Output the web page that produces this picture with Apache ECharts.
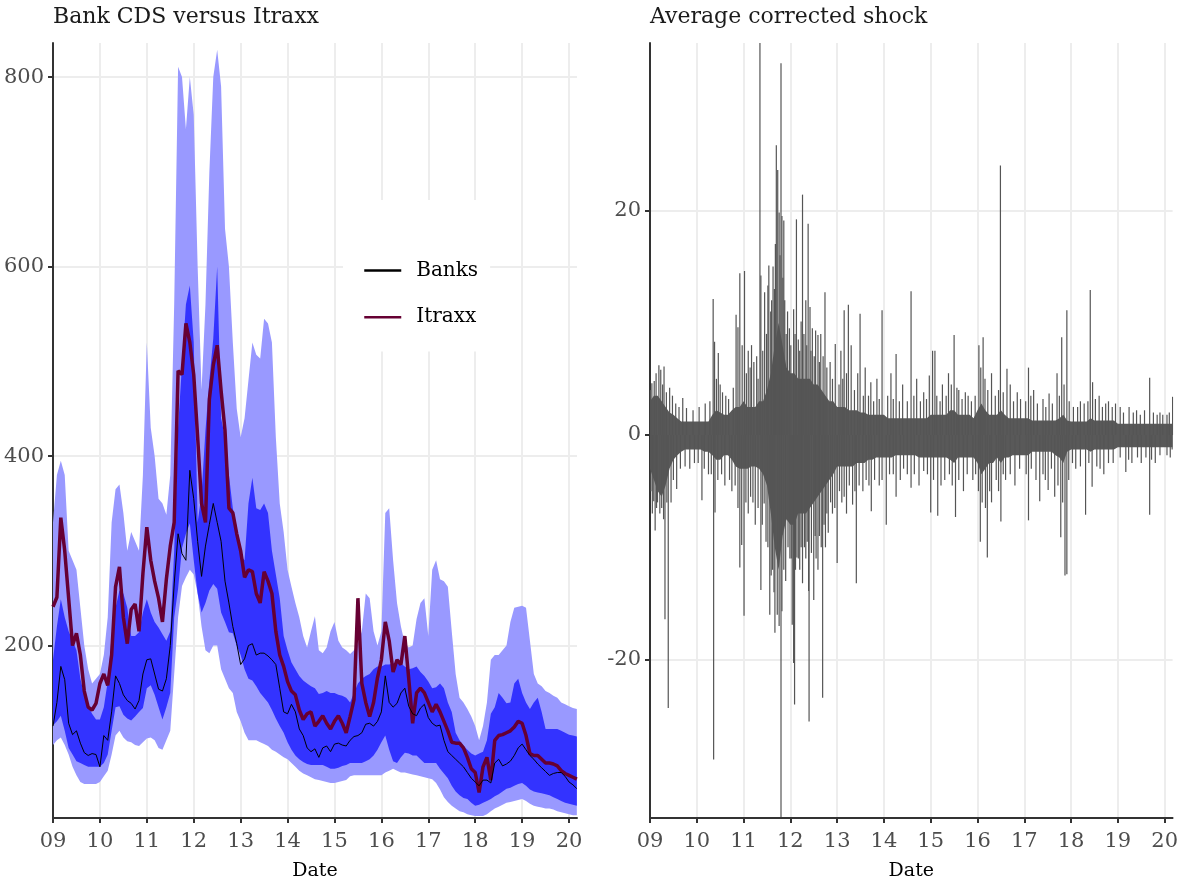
<!DOCTYPE html>
<html>
<head>
<meta charset="UTF-8">
<title>Bank CDS versus Itraxx</title>
<script src="https://cdn.jsdelivr.net/npm/echarts@6/dist/echarts.min.js"></script>
<style>
  html, body { margin: 0; padding: 0; background: #fff; }
  #chart { width: 1181px; height: 886px; }
</style>
</head>
<body>
<div id="chart"></div>
<script type="text/javascript">
var FONT = '"DejaVu Serif", "Liberation Serif", serif';

// left panel, one value per month, Jan 2009 .. Mar 2020
var itraxx = [
  241, 251, 335, 300, 250, 200, 213, 190, 152, 135, 132, 139,
  160, 170, 158, 190, 262, 283, 230, 202, 238, 244, 215, 276,
  325, 290, 268, 250, 225, 270, 305, 330, 490, 486, 540, 520,
  486, 420, 350, 330, 460, 496, 517, 469, 427, 345, 340, 318,
  300, 272, 280, 278, 255, 245, 278, 268, 255, 215, 190, 178,
  162, 152, 148, 132, 122, 128, 130, 115, 120, 126, 118, 112,
  120, 126, 118, 108, 125, 143, 250, 160, 140, 125, 140, 166,
  185, 225, 205, 172, 185, 180, 210, 165, 118, 150, 155, 150,
  140, 130, 138, 130, 120, 110, 98, 97, 97, 92, 82, 70,
  66, 45, 72, 82, 58, 100, 105, 106, 108, 110, 114, 120,
  118, 105, 86, 84, 84, 80, 76, 76, 75, 73, 68, 65,
  63, 61, 59
];
var banks = [
  115, 140, 178, 164, 118, 106, 110, 97, 87, 84, 86, 85,
  72, 105, 100, 130, 168, 160, 148, 142, 139, 133, 142, 170,
  185, 186, 170, 154, 152, 165, 200, 265, 318, 297, 290, 385,
  355, 310, 273, 305, 328, 350, 330, 310, 268, 245, 220, 202,
  180, 186, 200, 202, 190, 192, 192, 189, 185, 180, 155, 130,
  128, 138, 130, 112, 105, 92, 88, 91, 82, 92, 94, 88,
  96, 97, 95, 94, 100, 104, 105, 108, 117, 118, 115, 120,
  130, 168, 140, 135, 139, 150, 155, 136, 128, 126, 134, 138,
  124, 118, 115, 116, 100, 88, 84, 80, 76, 72, 66, 60,
  56, 52, 58, 58, 55, 76, 80, 73, 75, 78, 84, 92,
  96, 90, 84, 80, 75, 71, 67, 63, 65, 66, 66, 62,
  56, 53, 49
];
var outerHigh = [
  330, 380, 395, 380, 300, 290, 280, 240, 200, 175, 160, 165,
  170, 190, 230, 330, 365, 370, 340, 300, 320, 310, 300, 380,
  520, 430, 400, 355, 350, 338, 380, 560, 811, 800, 745, 800,
  760, 600, 470, 560, 700, 800, 829, 790, 640, 600, 520, 450,
  420, 440, 480, 520, 507, 503, 545, 540, 520, 420, 350, 320,
  280, 262, 245, 230, 210, 198, 215, 231, 195, 192, 198, 215,
  225, 205, 198, 195, 191, 195, 202, 215, 255, 250, 215, 200,
  215, 340, 345, 290, 245, 220, 202, 198, 200, 228, 245, 250,
  210, 280, 290, 270, 268, 262, 215, 170, 145, 140, 133, 125,
  115, 100, 115, 140, 185, 190, 190, 195, 200, 225, 240, 241,
  242, 240, 205, 170, 160, 157, 152, 150, 147, 145, 140, 138,
  136, 134, 133
];
var innerHigh = [
  185, 220, 249, 230, 215, 205, 195, 165, 148, 136, 128, 122,
  122, 135, 162, 210, 240, 258, 255, 240, 210, 210, 214, 235,
  249, 235, 225, 219, 212, 205, 215, 300, 430, 497, 560, 580,
  520, 330, 360, 427, 480, 524, 600, 440, 420, 380, 345, 325,
  295, 290, 350, 377, 345, 343, 350, 340, 300, 275, 250, 210,
  195, 182, 175, 168, 163, 160, 157, 155, 149, 150, 152, 150,
  150, 148, 147, 145, 140, 150, 160, 165, 168, 170, 175, 178,
  178, 180, 180, 181, 182, 181, 178, 175, 176, 178, 172, 168,
  162, 155, 156, 160, 155, 140, 130, 108, 100, 94, 90, 86,
  84, 86, 88, 100, 128, 135, 150, 145, 139, 140, 160, 165,
  150, 140, 133, 140, 145, 130, 112, 112, 112, 112, 110, 108,
  106, 105, 104
];
var innerLow = [
  116, 120, 126, 110, 92, 85, 78, 76, 74, 72, 72, 72,
  72, 76, 85, 110, 135, 136, 127, 123, 121, 125, 130, 134,
  155, 158, 148, 135, 122, 135, 150, 230, 260, 303, 318, 329,
  290, 255, 235, 245, 258, 265, 260, 235, 225, 214, 213, 200,
  190, 175, 165, 163, 157, 150, 145, 140, 132, 123, 115, 108,
  98, 90, 84, 80, 77, 75, 74, 74, 74, 74, 72, 70,
  70, 71, 73, 74, 76, 76, 76, 76, 78, 80, 84, 90,
  98, 105, 90, 78, 76, 82, 87, 86, 84, 84, 80, 76,
  76, 76, 76, 70, 65, 60, 52, 46, 42, 39, 38, 34,
  31, 32, 34, 36, 38, 41, 43, 46, 49, 50, 52, 54,
  55, 52, 48, 46, 45, 44, 43, 42, 40, 38, 36, 34,
  33, 32, 31
];
var outerLow = [
  95, 100, 103, 95, 85, 72, 63, 56, 54, 54, 54, 54,
  56, 62, 68, 85, 105, 110, 103, 99, 98, 95, 94, 98,
  102, 103, 100, 92, 90, 100, 110, 170, 230, 263, 272, 280,
  275, 255, 220, 195, 192, 200, 200, 175, 165, 155, 150, 130,
  120, 108, 100, 100, 100, 98, 96, 94, 90, 88, 85, 82,
  80, 76, 72, 68, 65, 63, 61, 59, 58, 57, 56, 55,
  55, 56, 57, 58, 62, 63, 63, 63, 63, 63, 63, 63,
  63, 66, 68, 70, 68, 66, 66, 65, 64, 63, 62, 61,
  60, 59, 55, 48, 40, 35, 31, 28, 25, 24, 22, 21,
  20, 20, 20, 22, 25, 28, 30, 32, 34, 35, 36, 37,
  38, 36, 33, 31, 30, 29, 28, 28, 27, 25, 24, 23,
  22, 21, 21
];

// right panel: monthly body of the daily shocks, plus the single-day spikes
var shockTop = [
  3, 3.5, 3.5, 3, 2.5, 2, 1.8, 1.5, 1.2, 1.2, 1.2, 1.2,
  1.2, 1.2, 1.2, 1.2, 1.8, 2.2, 2, 1.8, 1.8, 2.2, 2.5, 2.5,
  3, 2.5, 2.5, 2.5, 3, 3, 4, 5.5, 8, 10, 8, 6,
  5.5, 5.5, 5, 5, 5, 5, 4.5, 4.5, 4, 3.5, 3, 3,
  2.5, 2.5, 2.5, 2.2, 2.2, 2.2, 2, 2, 1.8, 1.8, 1.8, 1.8,
  1.8, 1.5, 1.5, 1.5, 1.5, 1.5, 1.5, 1.5, 1.5, 1.5, 1.5, 1.5,
  1.8, 1.8, 1.8, 1.8, 1.8, 2.2, 2.2, 1.8, 1.8, 1.8, 1.8, 1.5,
  2.2, 2.8, 2.2, 1.8, 1.8, 1.8, 2.2, 1.8, 1.5, 1.5, 1.5, 1.5,
  1.5, 1.5, 1.3, 1.3, 1.3, 1.3, 1.3, 1.3, 1.3, 1.5, 1.8, 1.3,
  1.2, 1.2, 1.2, 1.2, 1.2, 1.5, 1.3, 1.3, 1.3, 1.3, 1.3, 1.3,
  1, 1, 1, 1, 1, 1, 1, 1, 1, 1, 1, 1,
  1, 1, 1
];
var shockBottom = [
  -3, -4, -5, -5.5, -4.5, -3, -2.2, -1.8, -1.5, -1.3, -1.3, -1.3,
  -1.3, -1.3, -1.5, -1.5, -1.8, -2.2, -2.2, -1.8, -1.8, -2.2, -2.8, -3,
  -3, -3, -2.8, -2.8, -3, -3.5, -4.5, -7, -10, -12, -9, -7.5,
  -8, -8, -7, -7, -7, -6.5, -6, -5.5, -5, -4.5, -4, -3.5,
  -2.8, -2.8, -2.8, -2.8, -2.8, -2.5, -2.5, -2.5, -2.2, -2.2, -2, -2,
  -2, -2, -2, -1.8, -1.8, -1.8, -1.8, -1.8, -1.8, -2, -2, -2,
  -2, -2, -2, -2, -2, -2.2, -2.5, -2, -2, -2, -2, -2,
  -2.5, -3.5, -3, -2.5, -2.5, -2, -2.5, -2, -2, -1.8, -1.8, -1.8,
  -1.8, -1.8, -1.5, -1.5, -1.5, -1.5, -1.5, -1.5, -1.8, -2, -2.5, -1.5,
  -1.3, -1.3, -1.3, -1.3, -1.3, -1.5, -1.3, -1.3, -1.3, -1.3, -1.3, -1.3,
  -1.1, -1.1, -1.1, -1.1, -1.1, -1.1, -1.1, -1.1, -1.1, -1.1, -1.1, -1.1,
  -1.1, -1.1, -1.1
];
var spikesUp = [
  [2009.01, 4.0], [2009.04, 4.6], [2009.09, 4.8], [2009.13, 5.5], [2009.19, 6.2], [2009.23, 5.8], [2009.27, 4.5], [2009.30, 6.1],
  [2009.35, 3.8], [2009.42, 4.2], [2009.48, 3.5], [2009.55, 2.8], [2009.62, 2.5], [2009.70, 3.3], [2009.78, 2.4], [2009.92, 2.2],
  [2010.05, 2.5], [2010.18, 2.8], [2010.28, 3.0], [2010.35, 12.1], [2010.38, 8.3], [2010.42, 5.0], [2010.46, 7.3], [2010.50, 4.5],
  [2010.55, 3.8], [2010.62, 3.5], [2010.68, 3.2], [2010.78, 4.2], [2010.84, 10.7], [2010.88, 9.6], [2010.92, 14.4], [2010.97, 8.0],
  [2011.02, 14.6], [2011.06, 5.5], [2011.10, 7.5], [2011.14, 6.0], [2011.17, 8.0], [2011.22, 6.5], [2011.28, 7.0], [2011.31, 5.0],
  [2011.35, 35], [2011.37, 14.2], [2011.41, 7.5], [2011.45, 12.7], [2011.49, 9.0], [2011.52, 13.3], [2011.54, 15.1], [2011.58, 11.0],
  [2011.60, 12.0], [2011.63, 15.0], [2011.66, 13.0], [2011.68, 17.0], [2011.70, 25.8], [2011.73, 23.6], [2011.76, 19.8], [2011.78, 16.0],
  [2011.80, 33.1], [2011.82, 19.5], [2011.84, 14.0], [2011.86, 19.1], [2011.88, 12.0], [2011.91, 9.0], [2011.94, 11.0], [2011.98, 9.5],
  [2012.01, 8.0], [2012.07, 11.2], [2012.10, 9.0], [2012.13, 19.2], [2012.17, 8.5], [2012.20, 7.5], [2012.23, 10.1], [2012.26, 21.4],
  [2012.29, 9.0], [2012.33, 12.0], [2012.35, 8.0], [2012.38, 18.8], [2012.42, 11.4], [2012.44, 7.5], [2012.47, 9.5], [2012.51, 7.0],
  [2012.54, 9.3], [2012.59, 8.9], [2012.62, 6.5], [2012.65, 9.0], [2012.70, 7.0], [2012.74, 12.7], [2012.78, 6.0], [2012.85, 6.5],
  [2012.90, 5.0], [2012.96, 8.1],
  [2013.04, 4.5], [2013.08, 7.5], [2013.12, 5.0], [2013.15, 11.1], [2013.20, 5.5], [2013.24, 11.6], [2013.30, 8.0], [2013.37, 4.0],
  [2013.44, 5.5], [2013.49, 10.8], [2013.56, 3.5], [2013.60, 6.0], [2013.67, 3.5], [2013.72, 4.7], [2013.78, 3.0], [2013.85, 5.0],
  [2013.90, 3.2], [2013.96, 11.1],
  [2014.08, 3.5], [2014.15, 5.5], [2014.20, 3.2], [2014.26, 7.2], [2014.33, 3.0], [2014.40, 4.5], [2014.50, 3.0], [2014.58, 12.8],
  [2014.64, 3.5], [2014.70, 5.0], [2014.78, 3.0], [2014.85, 3.8], [2014.91, 3.2], [2014.97, 5.3],
  [2015.04, 7.5], [2015.09, 7.5], [2015.13, 3.5], [2015.20, 3.0], [2015.25, 4.5], [2015.33, 3.5], [2015.38, 5.5], [2015.44, 4.5],
  [2015.50, 8.9], [2015.56, 4.2], [2015.60, 4.0], [2015.67, 3.2], [2015.74, 3.8], [2015.80, 3.5], [2015.87, 3.0], [2015.95, 3.5],
  [2016.03, 8.0], [2016.07, 6.0], [2016.12, 8.7], [2016.16, 5.0], [2016.22, 4.0], [2016.30, 5.5], [2016.38, 3.5], [2016.45, 4.0],
  [2016.49, 24.0], [2016.55, 3.8], [2016.63, 5.9], [2016.70, 4.5], [2016.77, 3.0], [2016.85, 3.8], [2016.92, 3.2],
  [2017.03, 3.0], [2017.09, 6.0], [2017.14, 3.5], [2017.20, 4.0], [2017.28, 2.8], [2017.40, 3.2], [2017.46, 2.5], [2017.53, 3.7],
  [2017.60, 2.8], [2017.70, 5.5], [2017.75, 3.5], [2017.80, 8.7], [2017.85, 4.5], [2017.91, 11.1], [2017.96, 3.0],
  [2018.05, 2.5], [2018.14, 2.5], [2018.20, 3.0], [2018.28, 2.8], [2018.36, 3.0], [2018.41, 12.9], [2018.46, 4.7], [2018.52, 3.2],
  [2018.60, 3.5], [2018.67, 2.5], [2018.74, 2.8], [2018.80, 3.0], [2018.88, 2.5], [2018.95, 2.8],
  [2019.05, 2.5], [2019.12, 2.0], [2019.24, 2.5], [2019.33, 2.0], [2019.40, 2.2], [2019.48, 1.8], [2019.57, 2.2], [2019.68, 5.1],
  [2019.76, 2.0], [2019.84, 1.8], [2019.90, 2.0], [2019.96, 1.8], [2020.05, 1.8], [2020.10, 2.0], [2020.17, 3.4]
];
var spikesDown = [
  [2009.02, -5], [2009.05, -7], [2009.08, -5.9], [2009.11, -8.5], [2009.14, -6.5], [2009.16, -6], [2009.21, -7], [2009.25, -6.5],
  [2009.29, -7.5], [2009.32, -16.4], [2009.36, -6], [2009.39, -24.3], [2009.45, -6], [2009.50, -4], [2009.57, -4.8], [2009.65, -3],
  [2009.75, -2.8], [2009.85, -3], [2009.95, -2.5],
  [2010.03, -2.5], [2010.11, -5.8], [2010.16, -3.0], [2010.25, -3.5], [2010.31, -3.5], [2010.36, -28.9], [2010.39, -6.9], [2010.45, -4.0],
  [2010.53, -3.5], [2010.60, -4.5], [2010.70, -4.0], [2010.75, -5], [2010.82, -4.5], [2010.88, -6.5], [2010.92, -11.8], [2010.96, -9.8],
  [2011.01, -16.1], [2011.05, -6], [2011.10, -7], [2011.15, -5.5], [2011.20, -6], [2011.25, -8], [2011.31, -6.5], [2011.37, -13.8],
  [2011.40, -8], [2011.44, -6.1], [2011.48, -9.5], [2011.52, -10], [2011.56, -16.0], [2011.59, -12.5], [2011.62, -12], [2011.65, -14],
  [2011.67, -17.6], [2011.72, -16], [2011.76, -17], [2011.80, -34], [2011.82, -15.7], [2011.86, -12], [2011.90, -13], [2011.95, -10],
  [2011.99, -11],
  [2012.02, -11], [2012.04, -16.9], [2012.07, -20.3], [2012.09, -24.0], [2012.11, -12], [2012.14, -10.9], [2012.17, -11], [2012.20, -12],
  [2012.23, -10], [2012.26, -13.2], [2012.30, -10], [2012.33, -11], [2012.36, -9.5], [2012.39, -13.9], [2012.40, -25.5], [2012.45, -10.5],
  [2012.50, -14.7], [2012.53, -9], [2012.55, -11], [2012.59, -12.0], [2012.62, -9], [2012.66, -10], [2012.69, -23.4], [2012.72, -8],
  [2012.75, -10], [2012.78, -7], [2012.81, -8.7], [2012.86, -6], [2012.90, -7], [2012.95, -6.5],
  [2013.00, -11.4], [2013.05, -5], [2013.10, -6], [2013.15, -5.5], [2013.20, -7], [2013.26, -4.5], [2013.33, -6.2], [2013.38, -5],
  [2013.41, -13.2], [2013.47, -4.5], [2013.55, -5], [2013.62, -4], [2013.68, -4.5], [2013.73, -6.8], [2013.80, -4], [2013.90, -4.5],
  [2013.96, -4],
  [2014.05, -8.0], [2014.12, -3.5], [2014.20, -3.5], [2014.26, -5.5], [2014.35, -4], [2014.42, -3.0], [2014.50, -3.5], [2014.58, -4.7],
  [2014.65, -3.5], [2014.75, -4.5], [2014.85, -3.2], [2014.93, -3.5],
  [2015.00, -6.9], [2015.06, -4.0], [2015.15, -7.2], [2015.22, -4.5], [2015.30, -4], [2015.40, -3.5], [2015.46, -4.5], [2015.53, -7.3],
  [2015.60, -4.0], [2015.70, -5], [2015.78, -3.5], [2015.90, -4], [2015.96, -3.5],
  [2016.02, -5.0], [2016.06, -9.5], [2016.10, -6.0], [2016.17, -6.5], [2016.21, -10.9], [2016.26, -5.0], [2016.30, -6], [2016.40, -4.0],
  [2016.45, -5.0], [2016.50, -7.7], [2016.55, -3.5], [2016.60, -4], [2016.70, -3.5], [2016.80, -4.5], [2016.90, -3.0],
  [2017.04, -3.5], [2017.09, -7.6], [2017.15, -3.0], [2017.25, -4], [2017.33, -5.9], [2017.40, -3.5], [2017.45, -4.0], [2017.51, -4.9],
  [2017.58, -3.0], [2017.65, -5.5], [2017.72, -4.5], [2017.78, -9.1], [2017.82, -6.0], [2017.87, -12.5], [2017.91, -12.4], [2017.95, -4.0],
  [2018.03, -2.5], [2018.10, -3], [2018.20, -2.8], [2018.31, -7.1], [2018.38, -2.5], [2018.45, -4.6], [2018.55, -2.8], [2018.62, -3.0],
  [2018.70, -3.5], [2018.80, -2.5], [2018.90, -2.5],
  [2019.05, -2.0], [2019.17, -3.3], [2019.23, -2.2], [2019.30, -2.5], [2019.42, -2.0], [2019.50, -2.5], [2019.60, -2.0], [2019.68, -7.1],
  [2019.72, -2.2], [2019.80, -2.5], [2019.90, -1.8], [2020.05, -1.8], [2020.12, -2.0], [2020.16, -1.3]
];

var yearTicks = [2009, 2010, 2011, 2012, 2013, 2014, 2015, 2016, 2017, 2018, 2019, 2020];
var leftTicks = [200, 400, 600, 800];
var rightTicks = [-20, 0, 20];

// month dates shared by the monthly arrays
var dates = [];
for (var i = 0; i < banks.length; i++) {
  dates.push(2009 + i / 12);
}
function pairs(vals) {
  return vals.map(function (v, i) { return [dates[i], v]; });
}
// filled region between two monthly arrays, placed with the axis scales
function bandSeries(hi, lo, color, xi, z) {
  return {
    type: 'custom', xAxisIndex: xi, yAxisIndex: xi, z: z, silent: true, clip: true,
    data: [[dates[0], lo[0]]],
    renderItem: function (params, api) {
      var pts = [];
      for (var i = 0; i < hi.length; i++) pts.push(api.coord([dates[i], hi[i]]));
      for (var j = lo.length - 1; j >= 0; j--) pts.push(api.coord([dates[j], lo[j]]));
      return { type: 'polygon', shape: { points: pts }, style: { fill: color } };
    }
  };
}

var gridCol = '#ededed';
var axisCol = '#333333';
var labelStyle = { fontFamily: FONT, fontSize: 21, color: '#4d4d4d' };

function xAxis(idx) {
  return {
    type: 'value', gridIndex: idx, min: 2009, max: 2020.17, interval: 1,
    name: 'Date', nameLocation: 'middle', nameGap: 44,
    nameTextStyle: { fontFamily: FONT, fontSize: 19, color: '#000' },
    axisLine: { show: true, onZero: false, lineStyle: { color: axisCol, width: 2 } },
    axisTick: { show: true, length: 5, customValues: yearTicks, lineStyle: { color: axisCol, width: 2 } },
    axisLabel: Object.assign({
      margin: 13, customValues: yearTicks,
      formatter: function (v) { return String(Math.round(v)).slice(2); }
    }, labelStyle),
    splitLine: { show: true, lineStyle: { color: gridCol, width: 2 } }
  };
}
function yAxis(idx, min, max, ticks) {
  return {
    type: 'value', gridIndex: idx, min: min, max: max,
    axisLine: { show: true, onZero: false, lineStyle: { color: axisCol, width: 2 } },
    axisTick: { show: true, length: 5, customValues: ticks, lineStyle: { color: axisCol, width: 2 } },
    axisLabel: Object.assign({ margin: 9, customValues: ticks }, labelStyle),
    splitLine: { show: true, lineStyle: { color: gridCol, width: 2 } }
  };
}

var chart = echarts.init(document.getElementById('chart'));
chart.setOption({
  animation: false,
  backgroundColor: '#fff',
  title: [
    { text: 'Bank CDS versus Itraxx', left: 48, top: 1,
      textStyle: { fontFamily: FONT, fontSize: 22, fontWeight: 'normal', color: '#1a1a1a' } },
    { text: 'Average corrected shock', left: 645, top: 1,
      textStyle: { fontFamily: FONT, fontSize: 22, fontWeight: 'normal', color: '#1a1a1a' } }
  ],
  grid: [
    { left: 53, top: 43, width: 524, height: 779 },
    { left: 650, top: 43, width: 528, height: 779 }
  ],
  legend: {
    data: ['Banks', 'Itraxx'], orient: 'vertical', left: 343, top: 200,
    backgroundColor: '#fff', padding: [60, 12, 24, 20],
    itemWidth: 37, itemHeight: 26, itemGap: 26, selectedMode: false,
    lineStyle: { width: 2.5 },
    itemStyle: { opacity: 0 },
    textStyle: { fontFamily: FONT, fontSize: 20, color: '#000', padding: [0, 0, 0, 10] }
  },
  xAxis: [xAxis(0), xAxis(1)],
  yAxis: [yAxis(0, 18, 836, leftTicks), yAxis(1, -34.1, 34.9, rightTicks)],
  series: [
    bandSeries(outerHigh, outerLow, '#9999ff', 0, 1),
    bandSeries(innerHigh, innerLow, '#3333ff', 0, 2),
    { name: 'Itraxx', type: 'line', xAxisIndex: 0, yAxisIndex: 0, data: pairs(itraxx),
      symbol: 'none', lineStyle: { color: '#660033', width: 3.5 }, itemStyle: { color: '#660033' }, z: 3 },
    { name: 'Banks', type: 'line', xAxisIndex: 0, yAxisIndex: 0, data: pairs(banks),
      symbol: 'none', lineStyle: { color: '#000', width: 1 }, itemStyle: { color: '#000' }, z: 4 },
    bandSeries(shockTop, shockBottom, '#595959', 1, 2),
    { name: 'spikesUp', type: 'bar', xAxisIndex: 1, yAxisIndex: 1, data: spikesUp, barWidth: 1.2,
      itemStyle: { color: '#555555' }, silent: true, z: 3 },
    { name: 'spikesDown', type: 'bar', xAxisIndex: 1, yAxisIndex: 1, data: spikesDown, barWidth: 1.2, barGap: '-100%',
      itemStyle: { color: '#555555' }, silent: true, z: 3 }
  ]
});
</script>
</body>
</html>
